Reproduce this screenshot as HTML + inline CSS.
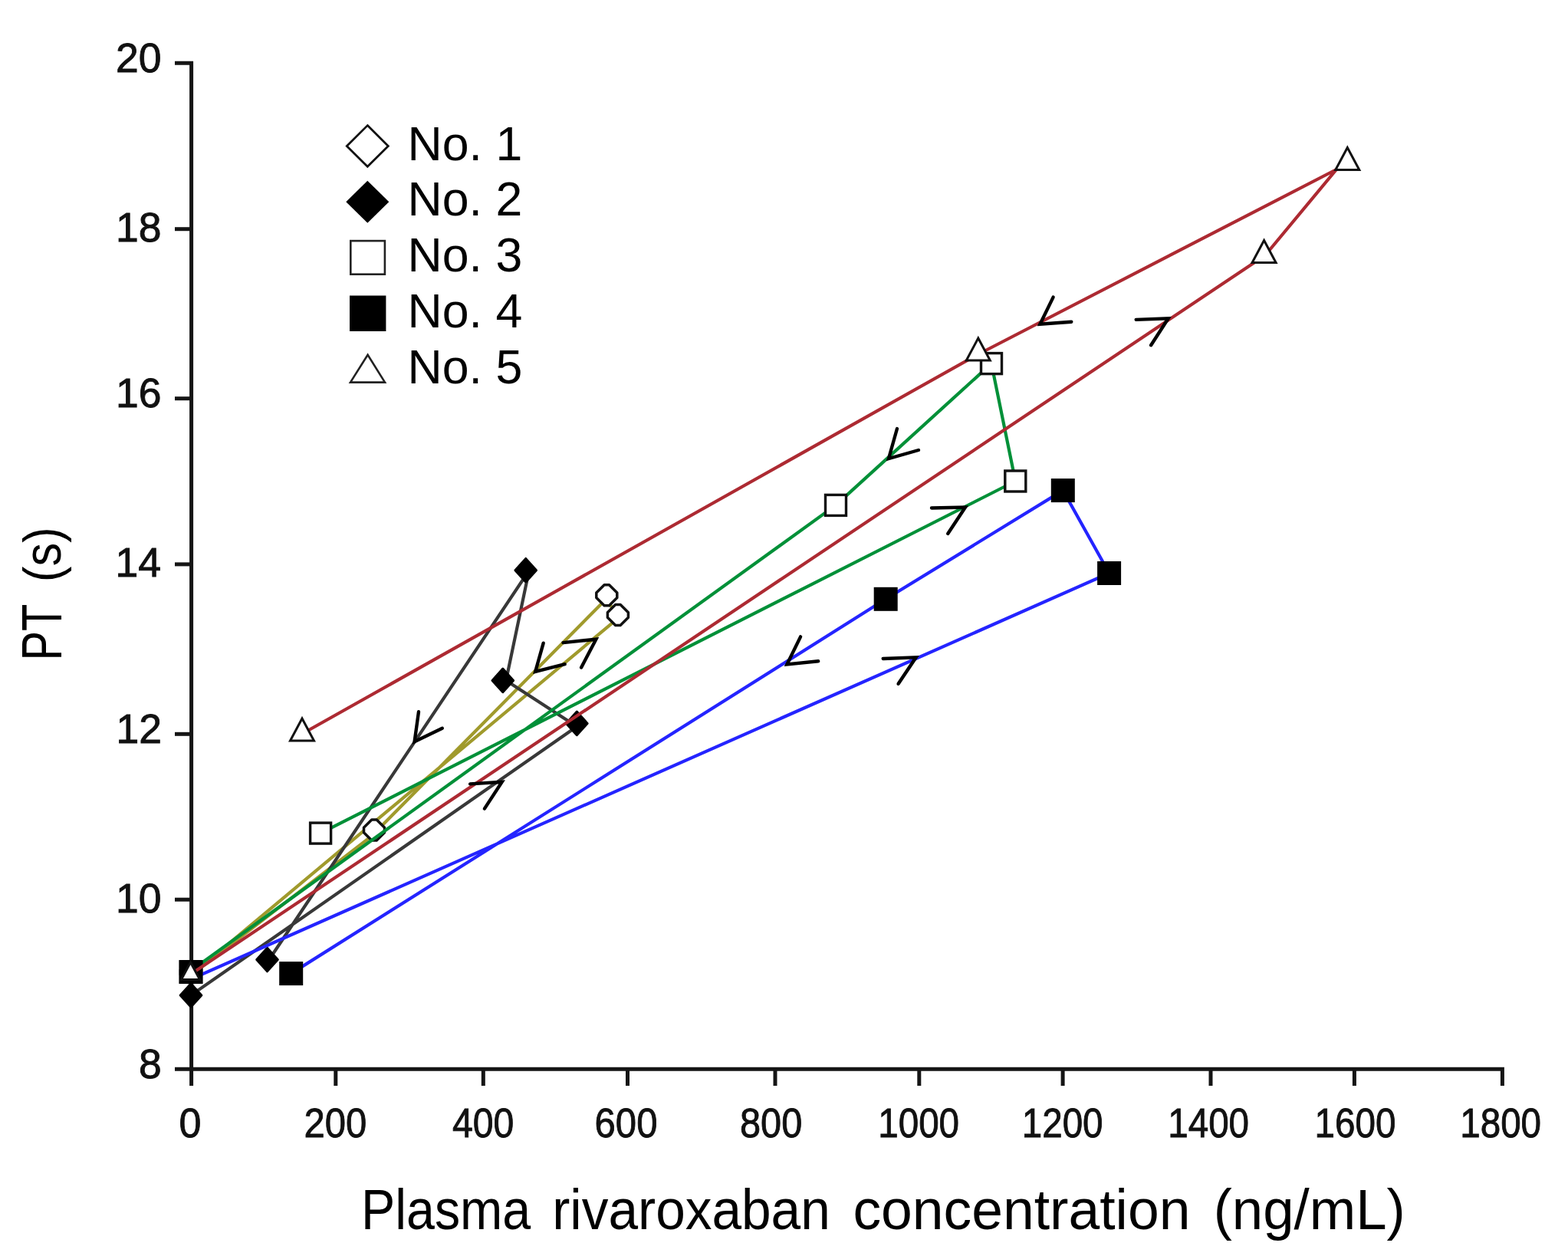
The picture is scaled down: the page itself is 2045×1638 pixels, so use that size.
<!DOCTYPE html><html><head><meta charset="utf-8"><title>PT vs plasma rivaroxaban concentration</title><style>html,body{margin:0;padding:0;background:#fff;}svg text{font-family:"Liberation Sans",Arial,sans-serif;}</style></head><body><svg width="2045" height="1638" viewBox="0 0 2045 1638" style="display:block">
<rect width="2045" height="1638" fill="#fff"/>
<g stroke="#151515" stroke-width="5" fill="none" stroke-linecap="butt" stroke-linejoin="miter">
<polyline points="228,82.2 249.6,82.2 249.6,1416"/>
<polyline points="228,1394.2 1959.4,1394.2 1959.4,1416"/>
<line x1="228" y1="298.7" x2="249.6" y2="298.7"/>
<line x1="228" y1="519.7" x2="249.6" y2="519.7"/>
<line x1="228" y1="735.9" x2="249.6" y2="735.9"/>
<line x1="228" y1="957.3" x2="249.6" y2="957.3"/>
<line x1="228" y1="1173.2" x2="249.6" y2="1173.2"/>
<line x1="437.8" y1="1394.2" x2="437.8" y2="1416"/>
<line x1="630.3" y1="1394.2" x2="630.3" y2="1416"/>
<line x1="818.5" y1="1394.2" x2="818.5" y2="1416"/>
<line x1="1011" y1="1394.2" x2="1011" y2="1416"/>
<line x1="1198.8" y1="1394.2" x2="1198.8" y2="1416"/>
<line x1="1386.1" y1="1394.2" x2="1386.1" y2="1416"/>
<line x1="1579" y1="1394.2" x2="1579" y2="1416"/>
<line x1="1766.4" y1="1394.2" x2="1766.4" y2="1416"/>
</g>
<text transform="translate(151.06,93.80) scale(1.0000,1)" font-size="53.5" fill="#111" stroke="#111" stroke-width="0.9">20</text>
<text transform="translate(151.06,315.30) scale(1.0000,1)" font-size="53.5" fill="#111" stroke="#111" stroke-width="0.9">18</text>
<text transform="translate(151.06,531.00) scale(1.0000,1)" font-size="53.5" fill="#111" stroke="#111" stroke-width="0.9">16</text>
<text transform="translate(150.52,752.20) scale(1.0000,1)" font-size="53.5" fill="#111" stroke="#111" stroke-width="0.9">14</text>
<text transform="translate(151.59,968.70) scale(1.0000,1)" font-size="53.5" fill="#111" stroke="#111" stroke-width="0.9">12</text>
<text transform="translate(151.06,1189.80) scale(1.0000,1)" font-size="53.5" fill="#111" stroke="#111" stroke-width="0.9">10</text>
<text transform="translate(181.02,1406.30) scale(1.0000,1)" font-size="53.5" fill="#111" stroke="#111" stroke-width="0.9">8</text>
<text transform="translate(233.62,1482.50) scale(0.9735,1)" font-size="53.5" fill="#111" stroke="#111" stroke-width="0.9">0</text>
<text transform="translate(396.50,1482.50) scale(0.9168,1)" font-size="53.5" fill="#111" stroke="#111" stroke-width="0.9">200</text>
<text transform="translate(589.89,1482.50) scale(0.8998,1)" font-size="53.5" fill="#111" stroke="#111" stroke-width="0.9">400</text>
<text transform="translate(775.60,1482.50) scale(0.9168,1)" font-size="53.5" fill="#111" stroke="#111" stroke-width="0.9">600</text>
<text transform="translate(965.00,1482.50) scale(0.9111,1)" font-size="53.5" fill="#111" stroke="#111" stroke-width="0.9">800</text>
<text transform="translate(1145.19,1482.50) scale(0.8901,1)" font-size="53.5" fill="#111" stroke="#111" stroke-width="0.9">1000</text>
<text transform="translate(1332.69,1482.50) scale(0.8901,1)" font-size="53.5" fill="#111" stroke="#111" stroke-width="0.9">1200</text>
<text transform="translate(1523.19,1482.50) scale(0.8901,1)" font-size="53.5" fill="#111" stroke="#111" stroke-width="0.9">1400</text>
<text transform="translate(1714.49,1482.50) scale(0.8901,1)" font-size="53.5" fill="#111" stroke="#111" stroke-width="0.9">1600</text>
<text transform="translate(1904.19,1482.50) scale(0.8901,1)" font-size="53.5" fill="#111" stroke="#111" stroke-width="0.9">1800</text>
<text transform="translate(471.09,1602.60) scale(0.9050,1)" font-size="73.3" fill="#000">Plasma</text>
<text transform="translate(720.24,1602.60) scale(0.9467,1)" font-size="73.3" fill="#000">rivaroxaban</text>
<text transform="translate(1112.47,1602.60) scale(0.9998,1)" font-size="73.3" fill="#000">concentration</text>
<text transform="translate(1582.64,1602.60) scale(0.9903,1)" font-size="73.3" fill="#000">(ng/mL)</text>
<text transform="translate(79.80,861.62) rotate(-90) scale(0.7810,1)" font-size="74.0" fill="#000">PT</text>
<text transform="translate(79.00,758.88) rotate(-90) scale(0.9007,1)" font-size="68.0" fill="#000">(s)</text>
<polyline points="249,1272 484,1091 791.3,780.5 805.9,806.4 249,1272" fill="none" stroke="#a09a2c" stroke-width="4.2" stroke-linejoin="round"/>
<polygon points="245.8,1254.5 252.2,1254.5 262.5,1264.8 262.5,1271.2 252.2,1281.5 245.8,1281.5 235.5,1271.2 235.5,1264.8" fill="#fff" stroke="#111" stroke-width="3.5" stroke-linejoin="round"/>
<polygon points="484.8,1069.0 491.2,1069.0 501.5,1079.3 501.5,1085.7 491.2,1096.0 484.8,1096.0 474.5,1085.7 474.5,1079.3" fill="#fff" stroke="#111" stroke-width="3.5" stroke-linejoin="round"/>
<polygon points="788.1,762.8 794.5,762.8 804.8,773.1 804.8,779.5 794.5,789.8 788.1,789.8 777.8,779.5 777.8,773.1" fill="#fff" stroke="#111" stroke-width="3.5" stroke-linejoin="round"/>
<polygon points="802.7,788.5 809.1,788.5 819.4,798.8 819.4,805.2 809.1,815.5 802.7,815.5 792.4,805.2 792.4,798.8" fill="#fff" stroke="#111" stroke-width="3.5" stroke-linejoin="round"/>
<polyline points="249,1298 752.3,947.5 660,887.4 690,744 351,1251.5" fill="none" stroke="#383838" stroke-width="4.2" stroke-linejoin="round"/>
<polygon points="249,1282.7 262.8,1298 249,1313.3 235.2,1298" fill="#000" stroke="#000" stroke-width="3" stroke-linejoin="round"/>
<polygon points="752.3,928.1 766.0999999999999,943.4 752.3,958.6999999999999 738.5,943.4" fill="#000" stroke="#000" stroke-width="3" stroke-linejoin="round"/>
<polygon points="655.8,872.1 669.5999999999999,887.4 655.8,902.6999999999999 642.0,887.4" fill="#000" stroke="#000" stroke-width="3" stroke-linejoin="round"/>
<polygon points="685.7,728.4000000000001 699.5,743.7 685.7,759.0 671.9000000000001,743.7" fill="#000" stroke="#000" stroke-width="3" stroke-linejoin="round"/>
<polygon points="348.5,1236.2 362.3,1251.5 348.5,1266.8 334.7,1251.5" fill="#000" stroke="#000" stroke-width="3" stroke-linejoin="round"/>
<polyline points="249,1266 1090,658.9 1293,474.1 1324.3,627.5 418.1,1086.6" fill="none" stroke="#009038" stroke-width="4.2" stroke-linejoin="round"/>
<rect x="1076.5" y="645.4" width="27.0" height="27.0" fill="#fff" stroke="#111" stroke-width="3.4"/>
<rect x="1279.5" y="460.6" width="27.0" height="27.0" fill="#fff" stroke="#111" stroke-width="3.4"/>
<rect x="1310.8" y="614.0" width="27.0" height="27.0" fill="#fff" stroke="#111" stroke-width="3.4"/>
<rect x="404.6" y="1073.1" width="27.0" height="27.0" fill="#fff" stroke="#111" stroke-width="3.4"/>
<rect x="235.5" y="1254.0" width="27.0" height="27.0" fill="#fff" stroke="#111" stroke-width="3.4"/>
<polyline points="249,1277 1446.6,747.5 1386.3,639.6 1155.2,781.3 379.7,1269.6" fill="none" stroke="#2424ff" stroke-width="4.2" stroke-linejoin="round"/>
<rect x="1431.1" y="732.0" width="31.0" height="31.0" fill="#000"/>
<rect x="1370.8" y="624.1" width="31.0" height="31.0" fill="#000"/>
<rect x="1139.7" y="765.8" width="31.0" height="31.0" fill="#000"/>
<rect x="364.2" y="1254.1" width="31.0" height="31.0" fill="#000"/>
<rect x="233.5" y="1252.0" width="31.0" height="31.0" fill="#000"/>
<polyline points="249,1270.4 1650,333 1743,221 1272,464 394,957" fill="none" stroke="#ad2a32" stroke-width="4.2" stroke-linejoin="round"/>
<polygon points="1648.6,313.5 1664.1,342.5 1633.1,342.5" fill="#fff" stroke="#111" stroke-width="3" stroke-linejoin="miter"/>
<polygon points="1757.3,192.5 1772.8,221.5 1741.8,221.5" fill="#fff" stroke="#111" stroke-width="3" stroke-linejoin="miter"/>
<polygon points="1275.8,441.0 1291.3,470.0 1260.3,470.0" fill="#fff" stroke="#111" stroke-width="3" stroke-linejoin="miter"/>
<polygon points="394,937.0 409.5,966.0 378.5,966.0" fill="#fff" stroke="#111" stroke-width="3" stroke-linejoin="miter"/>
<polygon points="248.5,1254.96 260.59,1277.58 236.41,1277.58" fill="#fff" stroke="#111" stroke-width="3" stroke-linejoin="miter"/>
<g fill="none" stroke="#000" stroke-width="4.4" stroke-linecap="round" stroke-linejoin="miter">
<polyline points="1373.6,387.6 1356.4,422.8 1397.3,419.7"/>
<polyline points="1481.7,416.9 1523.7,415.3 1501.1,450.2"/>
<polyline points="1170,559 1159,598 1198,587"/>
<polyline points="1215,662.5 1259,661.5 1236.2,696"/>
<polyline points="1044.1,830.4 1026.4,866.5 1067.2,862.2"/>
<polyline points="1151.7,859 1194.7,857.3 1171.6,891.8"/>
<polyline points="546,928.3 540.6,967.3 576.8,949.8"/>
<polyline points="613.1,1022.4 654.7,1019.7 631.9,1054.6"/>
<polyline points="708.7,838.7 698.2,876 736.7,866.2"/>
<polyline points="734.5,838.1 777.4,833.7 758.1,870.5"/>
</g>
<polygon points="479.3,163.6 506.3,190.4 479.3,217.20000000000002 452.3,190.4" fill="#fff" stroke="#111" stroke-width="2.8"/>
<polygon points="479.3,235.7 507.3,263.2 479.3,290.7 451.3,263.2" fill="#000"/>
<rect x="457.3" y="314.1" width="44.6" height="43.6" fill="#fff" stroke="#222" stroke-width="2.6"/>
<rect x="456" y="385.5" width="47.4" height="46.5" fill="#000"/>
<polygon points="479.6,462.8 502,498.6 457,498.6" fill="#fff" stroke="#222" stroke-width="2.6" stroke-linejoin="miter"/>
<text transform="translate(531.59,208.50) scale(1.0000,1)" font-size="62.6" fill="#000">No. 1</text>
<text transform="translate(531.59,281.00) scale(1.0000,1)" font-size="62.6" fill="#000">No. 2</text>
<text transform="translate(531.59,353.80) scale(1.0000,1)" font-size="62.6" fill="#000">No. 3</text>
<text transform="translate(531.59,427.00) scale(1.0000,1)" font-size="62.6" fill="#000">No. 4</text>
<text transform="translate(531.59,500.00) scale(1.0000,1)" font-size="62.6" fill="#000">No. 5</text>
</svg></body></html>
